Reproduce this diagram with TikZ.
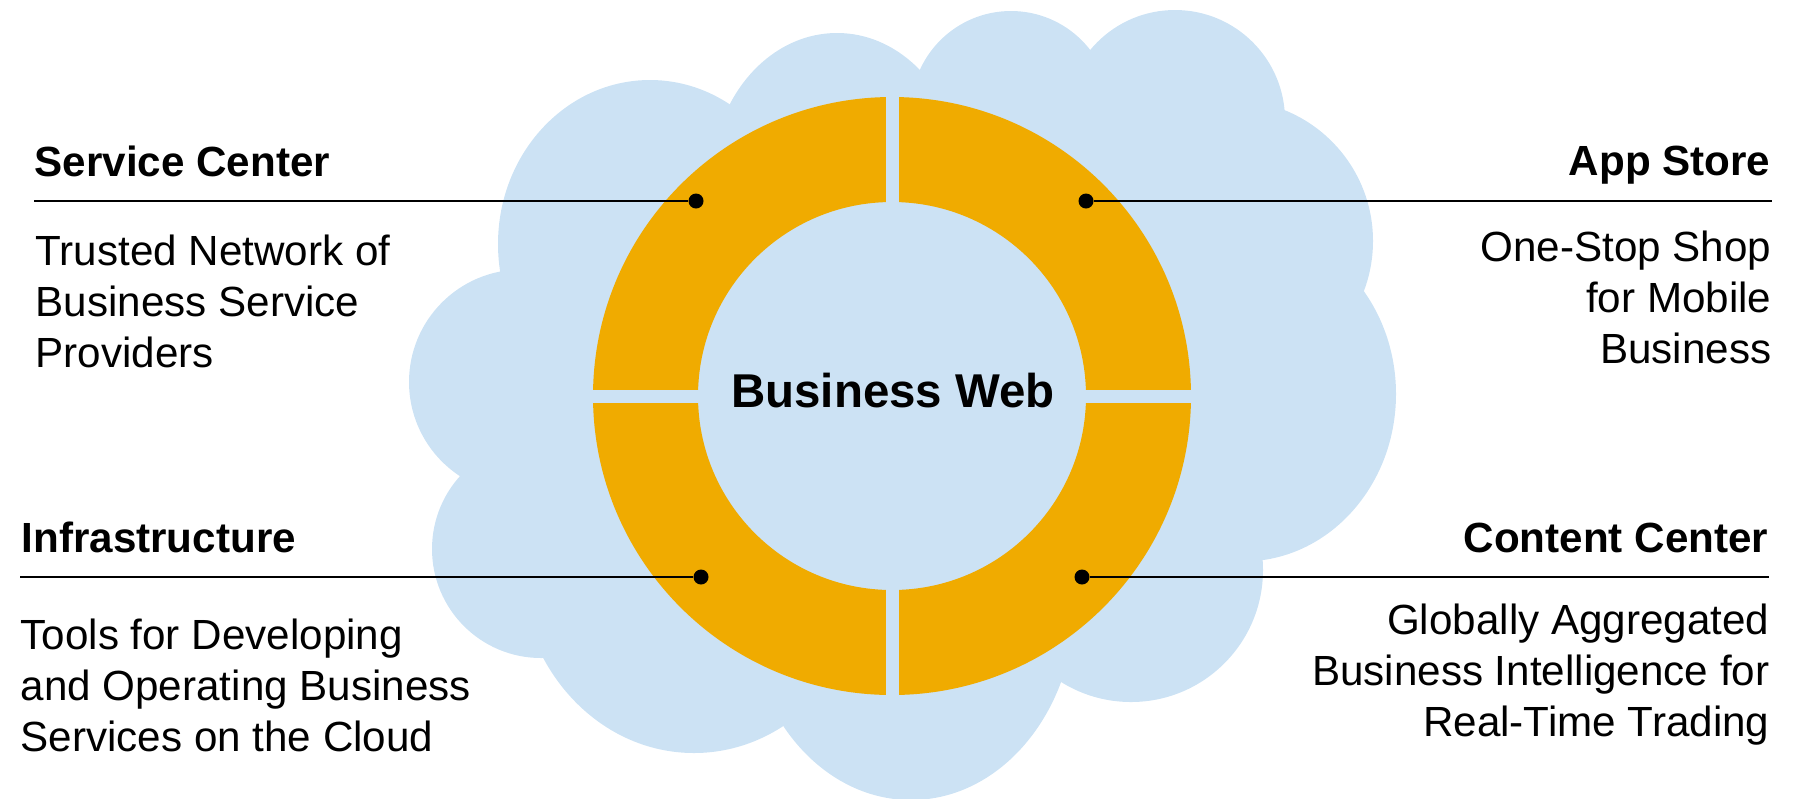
\documentclass[tikz,border=0pt]{standalone}
\usepackage{fontspec}
\setmainfont{Liberation Sans}
\usetikzlibrary{positioning}
\definecolor{cloudblue}{RGB}{204,226,244}
\definecolor{ringgold}{RGB}{240,171,0}
\tikzset{
  heading/.style={font=\fontsize{12}{14.4}\selectfont\bfseries, inner sep=0pt},
  blurb/.style={font=\fontsize{12}{14.4}\selectfont, inner sep=0pt},
  hub/.style={font=\fontsize{13.5}{16}\selectfont\bfseries, inner sep=0pt},
  dot/.style={circle, fill=black, inner sep=0pt, minimum size=1.5mm},
  leader/.style={line width=0.5pt}
}
\begin{document}
\begin{tikzpicture}[x=0.1mm, y=-0.1mm]
  \useasboundingbox (0,0) rectangle (1794,798);
  % cloud lobes
  \fill[cloudblue] (650,244) ellipse [x radius=15.2mm, y radius=16.4mm];
  \fill[cloudblue] (521.5,382) circle [radius=11.25mm];
  \fill[cloudblue] (541,549) circle [radius=10.9mm];
  \fill[cloudblue] (694,560) ellipse [x radius=17.5mm, y radius=19.3mm];
  \fill[cloudblue] (911,600) ellipse [x radius=16.45mm, y radius=20mm];
  \fill[cloudblue] (1131,570) circle [radius=13.2mm];
  \fill[cloudblue] (1243.5,394) ellipse [x radius=15.25mm, y radius=16.74mm];
  \fill[cloudblue] (1232,241) circle [radius=14.1mm];
  \fill[cloudblue] (1175,120) circle [radius=11mm];
  \fill[cloudblue] (1011,111) circle [radius=10mm];
  \fill[cloudblue] (837,183) ellipse [x radius=12.6mm, y radius=15mm];
  \fill[cloudblue] (650,244) -- (837,183) -- (1011,111) -- (1175,120) -- (1232,241)
    -- (1243.5,394) -- (1131,570) -- (911,600) -- (694,560) -- (541,549) -- (521.5,382) -- cycle;
  % ring
  \fill[ringgold, even odd rule] (892,396) circle [radius=29.9mm] (892,396) circle [radius=19.4mm];
  \fill[cloudblue] (885.5,90) rectangle (898.5,702);
  \fill[cloudblue] (586,389.5) rectangle (1198,402.5);
  \node[hub, anchor=base] (web) at (893,407) {Business Web};

  % service center
  \node[heading, anchor=base west] (sctitle) at (34,176) {Service Center};
  \node[blurb, anchor=base west, align=left] (sctext) at (35,367)
    {Trusted Network of\\Business Service\\Providers};
  \node[dot] (scdot) at (696,201) {};
  \coordinate (scend) at (34,201);
  \draw[leader] (scend) -- (scdot);

  % app store
  \node[heading, anchor=base east] (astitle) at (1771,175) {App Store};
  \node[blurb, anchor=base east, align=right] (astext) at (1772,363)
    {One-Stop Shop\\for Mobile\\Business};
  \node[dot] (asdot) at (1086,201) {};
  \coordinate (asend) at (1772,201);
  \draw[leader] (asdot) -- (asend);

  % infrastructure
  \node[heading, anchor=base west] (intitle) at (21,552) {Infrastructure};
  \node[blurb, anchor=base west, align=left] (intext) at (20,751)
    {Tools for Developing\\and Operating Business\\Services on the Cloud};
  \node[dot] (indot) at (701,577) {};
  \coordinate (inend) at (20,577);
  \draw[leader] (inend) -- (indot);

  % content center
  \node[heading, anchor=base east] (cctitle) at (1769,552) {Content Center};
  \node[blurb, anchor=base east, align=right] (cctext) at (1770,736)
    {Globally Aggregated\\Business Intelligence for\\Real-Time Trading};
  \node[dot] (ccdot) at (1082,577) {};
  \coordinate (ccend) at (1769,577);
  \draw[leader] (ccdot) -- (ccend);
\end{tikzpicture}
\end{document}
